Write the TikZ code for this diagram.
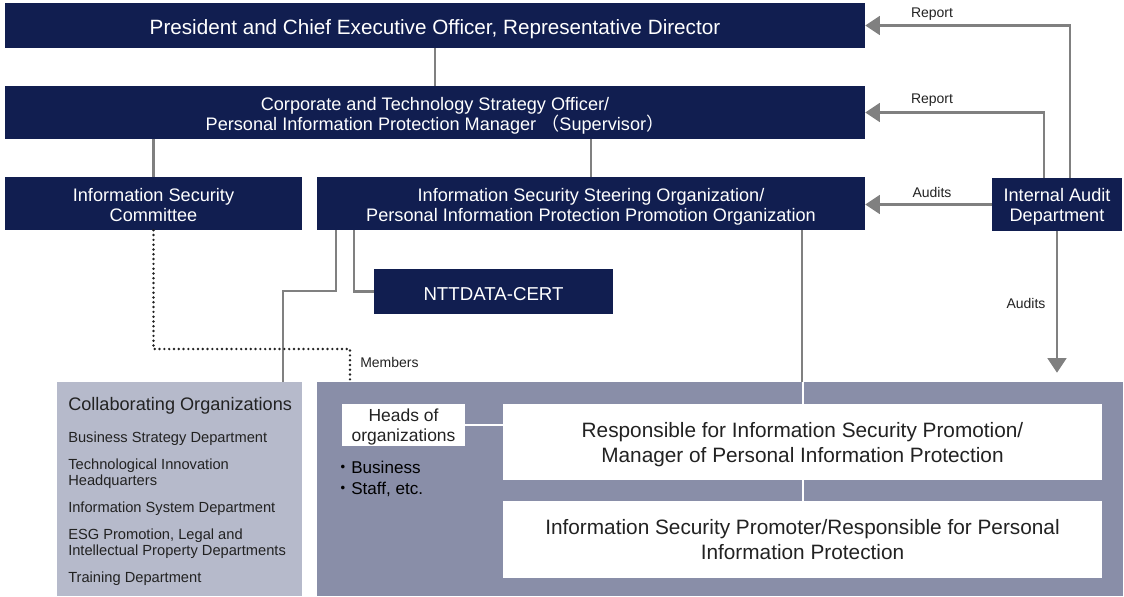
\documentclass[tikz,border=0pt]{standalone}
\usepackage{fontspec}
\setmainfont{Liberation Sans}
\newfontfamily\cjkfont{Noto Sans CJK JP}
\usetikzlibrary{arrows.meta, calc}
\definecolor{navy}{RGB}{17,30,80}
\definecolor{linegray}{RGB}{128,128,128}
\definecolor{collabfill}{RGB}{182,186,203}
\definecolor{panelfill}{RGB}{137,142,168}
\definecolor{inktext}{RGB}{34,34,34}
\newcommand\lft[1]{\rule{0pt}{#1}}

\begin{document}
\begin{tikzpicture}[x=0.75pt,y=0.75pt,yscale=-1,xscale=1,
    navybox/.style={fill=navy, text=white, inner sep=0pt, align=center, font=\fontsize{13.6}{15}\selectfont},
    whitebox/.style={fill=white, text=inktext, inner sep=0pt, align=center, font=\fontsize{15.6}{18.75}\selectfont},
    connline/.style={draw=linegray, line width=1.8pt},
    auditarrow/.style={draw=linegray, line width=2.2pt, -{Triangle[length=11pt,width=14pt]}},
    memberline/.style={draw=inktext, line width=2pt, line cap=round, dash pattern=on 0pt off 3.6pt},
    innerline/.style={draw=white, line width=1.5pt},
    lbl/.style={text=inktext, inner sep=0pt, font=\fontsize{10.5}{12}\selectfont},
    listitem/.style={anchor=west, align=left, inner sep=0pt, text=inktext, font=\fontsize{11}{12}\selectfont}]
    \useasboundingbox (0,0) rectangle (1124,596);

    %Shape: Rectangle [top management]
    \node (ceo) at (435,25.5) [navybox, minimum width=645pt, minimum height=33.75pt, font=\fontsize{15.5}{18}\selectfont] {\lft{17.3pt}President and Chief Executive Officer, Representative Director};
    \node (ctso) at (435,112.5) [navybox, minimum width=645pt, minimum height=39.75pt] {\lft{14.4pt}Corporate and Technology Strategy Officer/\\Personal Information Protection Manager {\cjkfont （}Supervisor{\cjkfont ）}};
    %Shape: Rectangle [third row]
    \node (isc) at (153.5,203.5) [navybox, minimum width=222.75pt, minimum height=39.75pt] {\lft{11.4pt}Information Security\\Committee};
    \node (isso) at (591,203.5) [navybox, minimum width=411pt, minimum height=39.75pt] {\lft{14.4pt}Information Security Steering Organization/\\Personal Information Protection Promotion Organization};
    \node (audit) at (1057,204.5) [navybox, minimum width=97.5pt, minimum height=39.75pt] {\lft{12.9pt}Internal Audit\\Department};
    \node (cert) at (493.5,291.5) [navybox, minimum width=179.25pt, minimum height=33.75pt, font=\fontsize{14}{16}\selectfont] {\lft{13.2pt}NTTDATA-CERT};

    %Shape: Rectangle [bottom areas]
    \node (collab) at (179.5,489) [fill=collabfill, inner sep=0pt, minimum width=183.75pt, minimum height=160.5pt] {};
    \node (panel) at (720,489) [fill=panelfill, inner sep=0pt, minimum width=604.5pt, minimum height=160.5pt] {};

    % Text Node
    \node (collabtitle) at (68,404) [listitem, font=\fontsize{13.6}{15}\selectfont] {\lft{12.9pt}Collaborating Organizations};
    \foreach \txt [count=\i from 0] in {Business Strategy Department, {Technological Innovation\\Headquarters}, Information System Department, {ESG Promotion, Legal and\\Intellectual Property Departments}, Training Department}
        \node (item\i) at (68,437+35*\i) [listitem] {\lft{11pt}\txt};

    %Shape: Rectangle [inside panel]
    \node (heads) at (403.5,425) [whitebox, minimum width=92.25pt, minimum height=31.5pt, font=\fontsize{13.1}{15}\selectfont] {\lft{12.6pt}Heads of\\organizations};
    \node (resp) at (802.5,442) [whitebox, minimum width=449.25pt, minimum height=57pt] {\lft{14.6pt}Responsible for Information Security Promotion/\\Manager of Personal Information Protection};
    \node (prom) at (802.5,539.5) [whitebox, minimum width=449.25pt, minimum height=57.75pt] {Information Security Promoter/Responsible for Personal\\Information Protection};
    \node (units) at (334,478.5) [anchor=west, align=left, inner sep=0pt, text=black, font=\fontsize{12.8}{15.75}\selectfont] {{\cjkfont ・}Business\\{\cjkfont ・}Staff, etc.};

    %Straight Lines [reporting lines]
    \draw [connline] (ceo) -- (ctso);
    \draw [connline] (isc.north) -- (isc.north |- ctso.south);
    \draw [connline] (isso.north) -- (isso.north |- ctso.south);
    \draw [connline] (isso.south -| 354,0) |- (cert.west);
    \coordinate (collabbend) at (283,291);
    \draw [connline] (isso.south -| 336,0) |- (collabbend) -- (collabbend |- collab.north);
    \draw [connline] (isso.south -| 802,0) -- (panel.north -| 802,0);
    \draw [innerline] (panel.north -| resp.north) -- (resp.north);
    \draw [innerline] (resp.south) -- (prom.north);
    \draw [innerline] (heads.east) -- (heads.east -| resp.west);

    %Straight Lines [members]
    \coordinate (memberbend) at (350,349);
    \draw [memberline] (isc.south) |- (memberbend) -- (memberbend |- panel.north);
    \node (memberslbl) at (360,362) [lbl, anchor=west] {Members};

    %Straight Lines [audit arrows]
    \draw [auditarrow] ($(audit.north)+(13,0)$) |- (ceo.east);
    \draw [auditarrow] ($(audit.north)+(-13,0)$) |- (ctso.east);
    \draw [auditarrow] (audit.west) -- (audit.west -| isso.east);
    \draw [auditarrow, shorten >=6.75pt] (audit.south) -- (audit.south |- panel.north);

    % Text Node
    \node (reportone) at (932,14) [lbl] {Report};
    \node (reporttwo) at (932,100) [lbl] {Report};
    \node (auditsone) at (932,192) [lbl] {Audits};
    \node (auditstwo) at (1026,303) [lbl] {Audits};

\end{tikzpicture}
\end{document}
